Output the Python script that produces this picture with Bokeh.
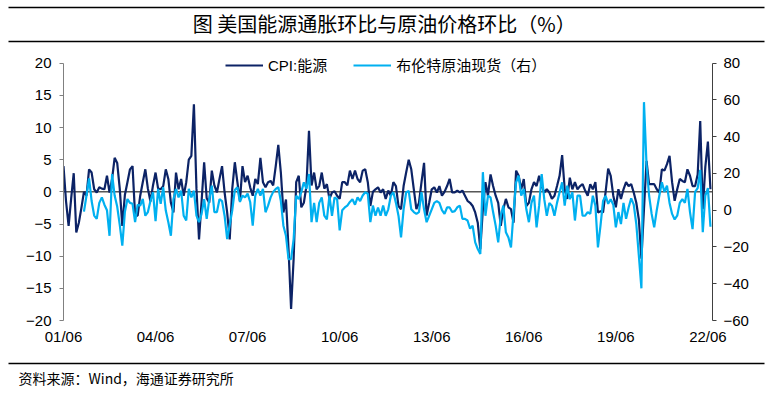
import pandas as pd
from bokeh.plotting import figure
from bokeh.layouts import column
from bokeh.models import (Range1d, LinearAxis, FixedTicker, Span, Label,
                          Legend, LegendItem, ColumnDataSource)
from bokeh.embed import file_html
from bokeh.resources import INLINE

# ---------------- data ----------------
start_month = "2001-06"
cpi_energy = [
    4.0, -1.5, -5.3, -1.0, 2.9, -6.3, -4.8, -2.5, 0.0, -0.6,
    3.5, 3.0, 0.4, -0.1, 0.7, 0.5, 0.4, 2.5, -0.1, 2.0,
    5.3, 4.5, 0.5, -5.3, -0.5, 1.5, 3.5, 4.0, -3.7, -3.7,
    -0.6, 1.5, 3.5, 0.5, -1.5, 1.0, 3.0, 0.5, 0.4, 0.9,
    3.5, 2.0, -1.7, -3.2, 3.0, 0.4, 2.0, -0.6, 1.5, 5.0,
    5.6, 13.6, 0.5, -7.4, -1.5, 4.6, -1.0, -1.7, 3.3, 1.0,
    -0.1, 2.0, 4.0, -0.1, -3.2, -7.4, 0.5, 4.6, 1.5, -1.4,
    4.0, 1.5, 2.5, 0.7, -0.6, 2.0, 1.2, 5.3, 1.5, 0.7,
    1.5, 1.7, 1.0, 4.0, 7.3, 3.0, -3.2, -1.2, -8.9, -18.2,
    -10.4, 1.5, 2.5, -2.4, -1.7, 0.9, 9.5, 1.0, 3.0, 0.4,
    0.9, 3.0, 0.5, 1.2, -1.1, -0.1, 0.1, -0.6, -1.1, 1.5,
    1.5, 1.0, 3.3, 2.0, 3.3, 2.0, 1.5, 3.3, 3.5, 1.5,
    -2.2, 0.0, 0.4, 0.7, -0.1, 0.4, -1.1, 0.2, -0.6, 1.5,
    0.9, -2.2, -2.7, 0.9, 3.0, 5.0, 3.5, 0.4, -2.7, -1.7,
    1.5, 4.5, -3.7, -1.7, 0.4, 0.7, -0.1, 0.9, -0.6, 0.0,
    0.9, 2.0, -0.1, -0.1, 0.2, -0.1, 0.2, -0.6, -1.4, -1.7,
    -2.2, -3.2, -4.8, -8.9, -2.7, 1.5, -0.6, 2.7, 0.9, -0.6,
    -1.7, -5.3, -2.7, -1.1, -2.4, -2.7, -4.8, 3.3, 2.5, 0.4,
    2.0, -2.2, -1.7, 0.4, 1.5, 0.9, 2.5, 0.9, -0.1, 0.4,
    -0.1, -1.1, -0.6, 0.9, 2.5, 5.7, 0.4, -1.1, 2.2, 0.4,
    1.5, 0.4, 0.9, 1.2, 0.2, -0.6, 1.2, 0.4, 1.5, -3.2,
    -3.0, -3.2, 0.0, 3.6, 2.5, -0.6, -2.4, 0.4, -1.1, 0.4,
    1.5, 0.9, 1.2, -0.1, -1.7, -4.3, -10.4, -2.7, 4.8, 1.2,
    1.2, 1.2, 0.4, -0.1, 3.5, 3.3, 4.3, 5.6, 1.5, -1.4,
    0.4, 2.0, 1.7, 1.5, 3.5, 2.5, 0.9, 0.9, 2.7, 11.0,
    -2.7, 3.9, 7.8, 0.4,
]
brent_start_offset = 8   # Brent series begins 8 months later (2002-02)
brent_spot = [
    -0.8, 8,
    17.3, 5, -2.9, -4.7, 4, 7, 3, 0, -13.9, 19.7,
    8, 2, -8, -19.3, -1, 6.1, 4, 3.5, -6.5, 3,
    2.5, 6.1, -3, -1, 5, 9.8, -6, 11.6, 3.5, 12.5,
    -0.2, -6.5, -13.9, 6, 11.6, 7, 10.6, -3, -5.6, 11.6,
    7, 10.6, -2.9, -6.5, -2, 6, -4.7, 6, 13.4, -1,
    -1, 6, 5, -3, -15.7, -8, 0, 11, 12.5, 4.5,
    8, 7, 9, 4.5, -8.4, 8, 11.6, 8, 11.6, -1.1,
    2.5, 7, 10, 11.6, 12.5, 5, -8.4, -13.9, -26.6, -26.6,
    -15.7, 7.9, 6, 10, 15.2, 11.6, 19.7, -6.5, 4, -6.5,
    4, 7, -3, -5, 8, -3, 7, 6, -11, 0,
    1.5, 2.5, 4.5, 6, 3, 7, 5, 8, 9.8, 9,
    -6.5, 2.5, -3, 1.5, -3, 2.5, -3, 0.5, 7.9, 9.8,
    4, -3, -14.8, 0.5, 9.8, 10.5, 0.5, -1, -2, -1,
    9.8, 0.5, -6.5, -3, 0.5, 4, 5, 4, 0, -2,
    1.5, 1.5, -1, -0.5, 1.6, 2.5, -4.7, -4.7, -5.6, -10,
    -8.4, -17.5, -21.1, -23.8, 20.7, -3, 7.9, 7, -1, -8.4,
    -17.5, -3, 2.5, -12, -14.8, -20.2, -1, 15.2, 18.8, 8,
    11.6, 0.5, -6.5, 4, 7.9, -9.3, 2.5, 19.7, 6, -3,
    4, 2.5, -3, 4, 9.8, 15.2, 2.5, 13.4, 6, 9.8,
    -5.6, 7.9, 7.9, -3, -3, -1, -2, 7.9, 2.5, -20.2,
    -8.4, 5, 7.9, 3.5, 6, 3, -9.3, -1, -7.5, 4,
    -4.7, 1.5, 6.5, 3, -7.5, -24.7, -42.5, 58.8, 25, 8,
    -2, -9.3, 0, 7.9, 15.2, 10, 13.4, 4, -2, -5,
    -3, 4, 6, 4, 11.6, -1, -10.3, 10, 12, 22,
    -12, 8, 12, -9,
]
tick_labels = ["01/06", "04/06", "07/06", "10/06", "13/06", "16/06", "19/06", "22/06"]
tick_step = 36
left_ticks = [-20, -15, -10, -5, 0, 5, 10, 15, 20]
right_ticks = [-60, -40, -20, 0, 20, 40, 60, 80]
title_text = "图  美国能源通胀环比与原油价格环比（%）"
source_text = "资料来源：Wind，海通证券研究所"
legend_labels = ["CPI:能源", "布伦特原油现货（右）"]

# ---------------- layout constants (pixels) ----------------
W = 772
HEAD_H = 46          # header strip (title + rules)
FOOT_H = 39          # footer strip (rule + source)
MAIN_H = 394 - HEAD_H - FOOT_H
AX_TOP = 62.7        # page y of the top tick (20 / 80)
AX_BOT = 320.0       # page y of the bottom tick (-20 / -60)
FRAME_L, FRAME_R = 63, 60

DARK = "#0c2366"
LIGHT = "#00b0f0"
LAT = "'Liberation Sans', 'Noto Sans CJK SC'"
CJK = "'Noto Sans CJK SC'"
TICK_FS = "15px"

# ---------------- header ----------------
head = figure(width=W, height=HEAD_H, output_backend="svg", toolbar_location=None,
              x_range=Range1d(0, W), y_range=Range1d(HEAD_H, 0),
              x_axis_type=None, y_axis_type=None, min_border=0,
              min_border_left=0, min_border_right=0, min_border_top=0,
              min_border_bottom=0, outline_line_color=None)
head.grid.visible = False
head.segment(x0=[8, 8], y0=[7, 41], x1=[764, 764], y1=[7, 41],
             line_color="black", line_width=1.3)
head.add_layout(Label(x=W / 2, y=23, text=title_text, text_align="center",
                      text_baseline="middle", text_font=CJK,
                      text_font_size="20px", text_color="#000000"))

# ---------------- main chart ----------------
months = pd.period_range(start_month, periods=len(cpi_energy), freq="M")
x_cpi = list(range(len(cpi_energy)))
x_brent = [brent_start_offset + k for k in range(len(brent_spot))]
tick_pos = [k * tick_step for k in range(len(tick_labels))]

frame_h = AX_BOT - HEAD_H
l_lo, l_hi = left_ticks[0], left_ticks[-1]
r_lo, r_hi = right_ticks[0], right_ticks[-1]
l_top = l_lo + (l_hi - l_lo) * frame_h / (AX_BOT - AX_TOP)
r_top = r_lo + (r_hi - r_lo) * frame_h / (AX_BOT - AX_TOP)

p = figure(width=W, height=MAIN_H, output_backend="svg", toolbar_location=None,
           x_range=Range1d(0, 253.8), y_range=Range1d(l_lo, l_top),
           min_border_left=FRAME_L, min_border_right=FRAME_R, min_border_top=0,
           min_border_bottom=int(MAIN_H - frame_h),
           outline_line_color=None)
p.extra_y_ranges = {"right": Range1d(r_lo, r_top)}
p.grid.visible = False

p.add_layout(Span(location=0, dimension="width", line_color="black",
                  line_width=1, level="underlay"))

src_c = ColumnDataSource(dict(x=x_cpi, y=cpi_energy))
src_b = ColumnDataSource(dict(x=x_brent, y=brent_spot))
r1 = p.line("x", "y", source=src_c, line_color=DARK, line_width=2.2)
r2 = p.line("x", "y", source=src_b, line_color=LIGHT, line_width=2.2,
            y_range_name="right")

xa = p.xaxis[0]
xa.ticker = FixedTicker(ticks=tick_pos)
xa.major_label_overrides = {t: l for t, l in zip(tick_pos, tick_labels)}
xa.axis_line_color = None
xa.major_tick_line_color = None
xa.minor_tick_line_color = None
xa.major_tick_out = 0
xa.major_tick_in = 0
xa.major_label_standoff = 7
xa.major_label_text_font = LAT
xa.major_label_text_font_size = TICK_FS
xa.major_label_text_color = "#000000"

ya = p.yaxis[0]
ya.ticker = FixedTicker(ticks=left_ticks)
ya.bounds = (l_lo, l_hi)
ya.axis_line_color = "#808080"
ya.major_tick_line_color = "#808080"
ya.major_tick_out = 4
ya.major_tick_in = 0
ya.minor_tick_line_color = None
ya.major_label_standoff = 8
ya.major_label_text_font = LAT
ya.major_label_text_font_size = TICK_FS
ya.major_label_text_color = "#000000"

ra = LinearAxis(y_range_name="right", ticker=FixedTicker(ticks=right_ticks),
                bounds=(r_lo, r_hi))
ra.axis_line_color = "#404040"
ra.major_tick_line_color = "#404040"
ra.major_tick_out = 4
ra.major_tick_in = 0
ra.minor_tick_line_color = None
ra.major_label_standoff = 7
ra.major_label_text_font = LAT
ra.major_label_text_font_size = TICK_FS
ra.major_label_text_color = "#000000"
p.add_layout(ra, "right")

# legend centred at page y ~67
leg_h = 16
leg_bottom = AX_BOT - 67 - leg_h / 2
legend = Legend(items=[LegendItem(label=legend_labels[0], renderers=[r1]),
                       LegendItem(label=legend_labels[1], renderers=[r2])],
                location=(225 - FRAME_L, leg_bottom), orientation="horizontal",
                glyph_width=38, glyph_height=leg_h, label_height=leg_h,
                label_standoff=5, spacing=26, padding=0, margin=0,
                border_line_color=None, background_fill_alpha=0,
                label_text_font=LAT, label_text_font_size="15px",
                label_text_color="#000000")
p.add_layout(legend, "center")

# ---------------- footer ----------------
foot = figure(width=W, height=FOOT_H, output_backend="svg", toolbar_location=None,
              x_range=Range1d(0, W), y_range=Range1d(FOOT_H, 0),
              x_axis_type=None, y_axis_type=None, min_border=0,
              min_border_left=0, min_border_right=0, min_border_top=0,
              min_border_bottom=0, outline_line_color=None)
foot.grid.visible = False
foot.segment(x0=[8], y0=[8], x1=[764], y1=[8], line_color="black", line_width=1.3)
foot.add_layout(Label(x=18, y=22, text=source_text, text_align="left",
                      text_baseline="middle", text_font=CJK,
                      text_font_size="14px", text_color="#000000"))

# do not align the frames of the three strips with each other
for f in (head, p, foot):
    if "frame_align" in f.properties():
        f.frame_align = False

layout = column(head, p, foot, spacing=0)
open("out.html", "w").write(file_html(layout, INLINE))
